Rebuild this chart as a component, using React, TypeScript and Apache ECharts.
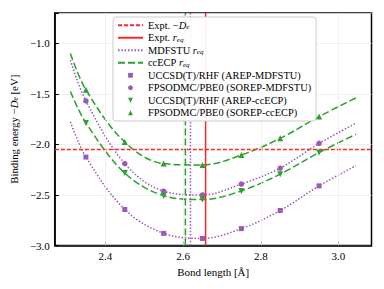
import React, { useEffect, useRef } from 'react';
import * as echarts from 'echarts';

const xTicks = [2.4, 2.6, 2.8, 3.0];
const yTicks = [-3.0, -2.5, -2.0, -1.5, -1.0];

const markerX = [2.35, 2.45, 2.55, 2.65, 2.75, 2.85, 2.95];
const uccsdMdfstu = [-2.125, -2.644, -2.88, -2.93, -2.833, -2.654, -2.41];
const dmcMdfstu = [-1.57, -2.19, -2.463, -2.5, -2.392, -2.235, -1.99];
const uccsdCcecp = [-1.787, -2.284, -2.507, -2.546, -2.46, -2.294, -2.08];
const dmcCcecp = [-1.46, -1.977, -2.19, -2.203, -2.105, -1.94, -1.725];

const fitX = [2.31, 2.35, 2.45, 2.55, 2.65, 2.75, 2.85, 2.95, 3.045];
const fitUccsdMdfstu = [-1.777, -2.125, -2.644, -2.88, -2.93, -2.833, -2.654, -2.41, -2.21];
const fitDmcMdfstu = [-1.167, -1.57, -2.19, -2.463, -2.5, -2.392, -2.235, -1.99, -1.79];
const fitUccsdCcecp = [-1.477, -1.787, -2.284, -2.507, -2.546, -2.46, -2.294, -2.08, -1.9];
const fitDmcCcecp = [-1.1, -1.46, -1.977, -2.19, -2.203, -2.105, -1.94, -1.725, -1.54];

const exptDe = -2.05;
const exptReq = 2.658;
const mdfstuReq = 2.619;
const ccecpReq = 2.606;

const X_MIN = 2.27;
const X_MAX = 3.085;
const Y_MIN = -3.0;
const Y_MAX = -0.7;

const RED = '#ff2626';
const PURPLE = '#9b59b6';
const GREEN = '#2ca02c';
const FONT = "'Liberation Serif', serif";

const lineNames = ['Expt. -De', 'Expt. req', 'MDFSTU req', 'ccECP req'];
const markerNames = [
  'UCCSD(T)/RHF (AREP-MDFSTU)',
  'FPSODMC/PBE0 (SOREP-MDFSTU)',
  'UCCSD(T)/RHF (AREP-ccECP)',
  'FPSODMC/PBE0 (SOREP-ccECP)',
];

const legendLabel: Record<string, string> = {
  'Expt. -De': '{n|Expt. −}{i|D}{s|e}',
  'Expt. req': '{n|Expt. }{i|r}{s|eq}',
  'MDFSTU req': '{n|MDFSTU }{i|r}{s|eq}',
  'ccECP req': '{n|ccECP }{i|r}{s|eq}',
};

const pairs = (xs: number[], ys: number[]) => xs.map((x, i) => [x, ys[i]]);

export default function App() {
  const ref = useRef<HTMLDivElement>(null);
  useEffect(() => {
    document.body.style.margin = '0';
    const chart = echarts.init(ref.current!, undefined, { renderer: 'svg' });
    const LH = 10.5;
    const rich = {
      n: { fontFamily: FONT, fontSize: 10.4, color: '#000', lineHeight: LH },
      i: { fontStyle: 'italic', fontFamily: FONT, fontSize: 10.4, color: '#000', lineHeight: LH },
      s: { fontStyle: 'italic', fontFamily: FONT, fontSize: 7, color: '#000', lineHeight: 5, verticalAlign: 'bottom' },
    };
    const markerSeries = (name: string, ys: number[], symbol: string, color: string, size: number, rotate = 0) => ({
      name,
      type: 'line',
      data: pairs(markerX, ys),
      symbol,
      symbolSize: size,
      symbolRotate: rotate,
      showSymbol: true,
      lineStyle: { width: 0, opacity: 0 },
      itemStyle: { color },
      z: 5,
    });
    const fitSeries = (name: string, ys: number[], color: string, type: any) => ({
      name,
      type: 'line',
      data: pairs(fitX, ys),
      smooth: 0.35,
      symbol: 'none',
      lineStyle: { color, width: 1.5, type },
      z: 3,
    });
    chart.setOption({
      animation: false,
      textStyle: { fontFamily: FONT },
      grid: { left: 54, right: 12.5, top: 13, bottom: 43.5, show: true, borderColor: '#000', borderWidth: 1.5 },
      xAxis: {
        type: 'value',
        min: X_MIN,
        max: X_MAX,
        axisLine: { lineStyle: { color: '#000', width: 1.5 } },
        axisTick: { inside: true, length: 4, customValues: xTicks, lineStyle: { color: '#000', width: 1 } },
        axisLabel: {
          customValues: xTicks,
          formatter: (v: number) => v.toFixed(1),
          color: '#000',
          fontSize: 11,
          fontFamily: FONT,
          margin: 5,
        },
        splitLine: { show: false },
        name: 'Bond length [Å]',
        nameLocation: 'middle',
        nameGap: 20,
        nameTextStyle: { color: '#000', fontSize: 11, fontFamily: FONT },
      },
      yAxis: {
        type: 'value',
        min: Y_MIN,
        max: Y_MAX,
        interval: 0.5,
        axisLine: { show: true, lineStyle: { color: '#000', width: 1.5 } },
        axisTick: { show: true, inside: true, length: 4, lineStyle: { color: '#000', width: 1 } },
        axisLabel: {
          formatter: (v: number) => (yTicks.some((t) => Math.abs(t - v) < 1e-6) ? v.toFixed(1).replace('-', '−') : ''),
          color: '#000',
          fontSize: 11,
          fontFamily: FONT,
          margin: 5,
        },
        splitLine: { show: true, lineStyle: { color: '#ececec', width: 0.8 } },
        name: '{n|Binding energy −}{i|D}{s|e}{n| [eV]}',
        nameLocation: 'middle',
        nameGap: 25,
        nameTextStyle: {
          color: '#000',
          fontSize: 10.8,
          fontFamily: FONT,
          rich: {
            n: { fontFamily: FONT, fontSize: 10.8, color: '#000', lineHeight: 11 },
            i: { fontStyle: 'italic', fontFamily: FONT, fontSize: 10.8, color: '#000', lineHeight: 11 },
            s: { fontStyle: 'italic', fontFamily: FONT, fontSize: 7.5, color: '#000', lineHeight: 5, verticalAlign: 'bottom' },
          },
        },
      },
      legend: {
        data: [
          ...lineNames.map((name) => ({ name, itemStyle: { opacity: 0 } })),
          ...markerNames.map((name) => ({ name })),
        ],
        orient: 'vertical',
        left: 113,
        top: 17,
        z: 20,
        zlevel: 0,
        itemWidth: 25,
        itemHeight: 6,
        itemGap: 2,
        padding: [3, 5, 3, 4],
        backgroundColor: 'rgba(255,255,255,0.92)',
        borderColor: '#cccccc',
        borderWidth: 1,
        borderRadius: 3,
        selectedMode: false,
        formatter: (name: string) => legendLabel[name] || `{n|${name}}`,
        textStyle: { color: '#000', fontSize: 10.4, fontFamily: FONT, lineHeight: LH, rich },
      },
      series: [
        {
          name: '_grid',
          type: 'line',
          data: [],
          silent: true,
          markLine: {
            silent: true,
            symbol: 'none',
            label: { show: false },
            lineStyle: { color: '#ececec', type: 'solid', width: 0.8 },
            data: xTicks.map((v) => ({ xAxis: v })),
          },
          z: 0,
        },
        fitSeries('fit1', fitUccsdMdfstu, PURPLE, [1.5, 1.8]),
        fitSeries('fit2', fitDmcMdfstu, PURPLE, [1.5, 1.8]),
        fitSeries('fit3', fitUccsdCcecp, GREEN, [7, 3]),
        fitSeries('fit4', fitDmcCcecp, GREEN, [7, 3]),
        {
          name: 'Expt. -De',
          type: 'line',
          data: [[X_MIN, exptDe], [X_MAX, exptDe]],
          symbol: 'none',
          lineStyle: { color: RED, width: 1.5, type: [4, 2] },
          itemStyle: { color: RED },
          z: 4,
        },
        {
          name: 'Expt. req',
          type: 'line',
          data: [[exptReq, Y_MIN], [exptReq, Y_MAX]],
          symbol: 'none',
          lineStyle: { color: RED, width: 1.5, type: 'solid' },
          itemStyle: { color: RED },
          z: 4,
        },
        {
          name: 'MDFSTU req',
          type: 'line',
          data: [[mdfstuReq, Y_MIN], [mdfstuReq, Y_MAX]],
          symbol: 'none',
          lineStyle: { color: PURPLE, width: 1.5, type: [1.5, 1.8] },
          itemStyle: { color: PURPLE },
          z: 4,
        },
        {
          name: 'ccECP req',
          type: 'line',
          data: [[ccecpReq, Y_MIN], [ccecpReq, Y_MAX]],
          symbol: 'none',
          lineStyle: { color: GREEN, width: 1.5, type: [7, 3] },
          itemStyle: { color: GREEN },
          z: 4,
        },
        markerSeries(markerNames[0], uccsdMdfstu, 'rect', PURPLE, 5),
        markerSeries(markerNames[1], dmcMdfstu, 'circle', PURPLE, 5.5),
        markerSeries(markerNames[2], uccsdCcecp, 'triangle', GREEN, 6, 180),
        markerSeries(markerNames[3], dmcCcecp, 'triangle', GREEN, 6),
      ],
    });
    return () => chart.dispose();
  }, []);
  return <div ref={ref} style={{ width: 384, height: 289 }} />;
}
